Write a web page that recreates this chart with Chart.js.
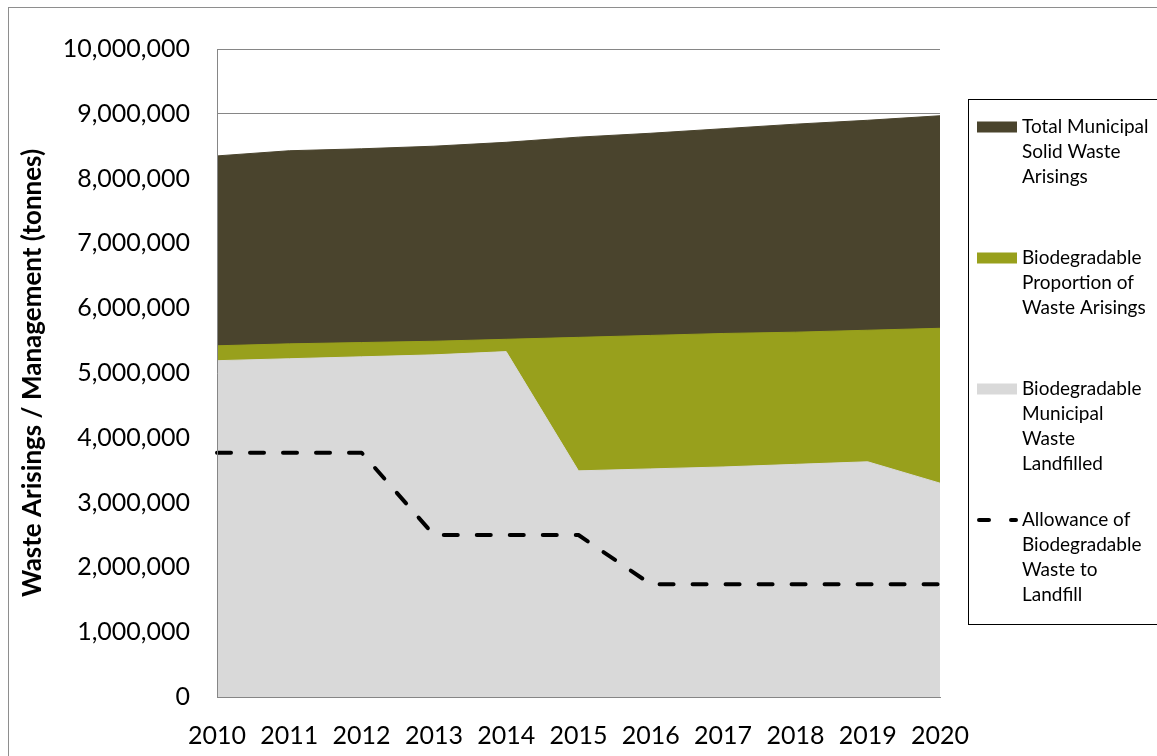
<!DOCTYPE html>
<html>
<head>
<meta charset="utf-8">
<script src="https://cdn.jsdelivr.net/npm/chart.js@4"></script>
<style>
  html, body { margin: 0; padding: 0; background: #fff; }
  #wrap { width: 1157px; height: 756px; position: relative; }
</style>
</head>
<body>
<div id="wrap"><canvas id="myChart"></canvas></div>
<script>
const years = ['2010', '2011', '2012', '2013', '2014', '2015', '2016', '2017', '2018', '2019', '2020'];

// tonnes per year
const totalArisings = [8350000, 8430000, 8460000, 8500000, 8560000, 8640000, 8700000, 8770000, 8840000, 8900000, 8970000];
const biodegradableArisings = [5420000, 5450000, 5470000, 5490000, 5520000, 5550000, 5580000, 5610000, 5630000, 5660000, 5690000];
const landfilled = [5190000, 5220000, 5250000, 5280000, 5330000, 3490000, 3520000, 3550000, 3590000, 3630000, 3300000];
const allowance = [3770000, 3770000, 3770000, 2500000, 2500000, 2500000, 1740000, 1740000, 1740000, 1740000, 1740000];

const seriesNames = [
  'Total Municipal Solid Waste Arisings',
  'Biodegradable Proportion of Waste Arisings',
  'Biodegradable Municipal Waste Landfilled',
  'Allowance of Biodegradable Waste to Landfill'
];
// how the legend breaks each name
const legendLines = [
  ['Total Municipal', 'Solid Waste', 'Arisings'],
  ['Biodegradable', 'Proportion of', 'Waste Arisings'],
  ['Biodegradable', 'Municipal', 'Waste', 'Landfilled'],
  ['Allowance of', 'Biodegradable', 'Waste to', 'Landfill']
];

const FONT = 'Lato, "Open Sans", sans-serif';

// white page + the outer frame of the chart
const framePlugin = {
  id: 'frame',
  beforeDraw(chart) {
    const ctx = chart.ctx;
    ctx.save();
    ctx.fillStyle = '#fff';
    ctx.fillRect(0, 0, chart.width, chart.height);
    ctx.strokeStyle = '#8e8e8e';
    ctx.lineWidth = 1;
    ctx.strokeRect(8.5, 7.5, chart.width + 20, chart.height + 20);
    ctx.restore();
  }
};

// put the axis lines back on top of the filled areas
const axisLinePlugin = {
  id: 'axisLines',
  afterDatasetsDraw(chart) {
    const a = chart.chartArea, ctx = chart.ctx;
    ctx.save();
    ctx.strokeStyle = '#868686';
    ctx.lineWidth = 1;
    ctx.beginPath();
    ctx.moveTo(Math.round(a.left) + 0.5, a.top);
    ctx.lineTo(Math.round(a.left) + 0.5, Math.round(a.bottom) + 0.5);
    ctx.lineTo(a.right, Math.round(a.bottom) + 0.5);
    ctx.stroke();
    ctx.restore();
  }
};

// boxed legend on the right with wrapped names
const boxLegendPlugin = {
  id: 'boxLegend',
  afterDraw(chart) {
    const ctx = chart.ctx;
    const items = Chart.defaults.plugins.legend.labels.generateLabels(chart)
      .sort((a, b) => a.datasetIndex - b.datasetIndex);
    const left = 968, top = 99, bottom = 624;
    ctx.save();
    ctx.strokeStyle = '#000';
    ctx.lineWidth = 1;
    ctx.strokeRect(left + 0.5, top + 0.5, 400, bottom - top);
    ctx.font = '19px ' + FONT;
    ctx.textBaseline = 'middle';
    ctx.textAlign = 'left';
    items.forEach((item, i) => {
      const y = 127 + i * 131;
      const ds = chart.data.datasets[item.datasetIndex];
      if (ds.fill) {
        ctx.fillStyle = ds.backgroundColor;
        ctx.fillRect(977, y - 5.5, 40, 11);
      } else {
        ctx.strokeStyle = ds.borderColor;
        ctx.lineWidth = 4;
        ctx.lineCap = 'round';
        ctx.beginPath();
        ctx.moveTo(979, y); ctx.lineTo(989, y);
        ctx.moveTo(1011, y); ctx.lineTo(1016, y);
        ctx.stroke();
      }
      ctx.fillStyle = '#000';
      legendLines[item.datasetIndex].forEach((line, j) => {
        ctx.fillText(line, 1022, y + j * 24.8);
      });
    });
    ctx.restore();
  }
};

function areaSet(i, data, color, order) {
  return {
    label: seriesNames[i],
    data: data,
    backgroundColor: color,
    borderColor: color,
    borderWidth: 1,
    pointRadius: 0,
    tension: 0,
    fill: 'origin',
    order: order
  };
}

const myChart = new Chart('myChart', {
  type: 'line',
  data: {
    labels: years,
    datasets: [
      areaSet(0, totalArisings, '#4a442d', 3),
      areaSet(1, biodegradableArisings, '#98a01c', 2),
      areaSet(2, landfilled, '#d9d9d9', 1),
      {
        label: seriesNames[3],
        data: allowance,
        borderColor: '#000',
        borderWidth: 4,
        borderDash: [14, 19],
        borderCapStyle: 'round',
        borderJoinStyle: 'round',
        pointRadius: 0,
        tension: 0,
        fill: false,
        order: 0
      }
    ]
  },
  options: {
    responsive: true,
    maintainAspectRatio: false,
    animation: false,
    layout: { padding: { top: 49, right: 217, bottom: 0, left: 0 } },
    plugins: {
      legend: { display: false },
      tooltip: { enabled: false },
      filler: { drawTime: 'beforeDatasetsDraw' }
    },
    scales: {
      x: {
        offset: false,
        grid: { display: false, drawTicks: false },
        border: { color: '#868686' },
        ticks: { color: '#000', font: { family: FONT, size: 25 }, padding: 24, maxRotation: 0, autoSkip: false },
        afterFit(scale) { scale.height = 59; }
      },
      y: {
        min: 0,
        max: 10000000,
        grid: { color: '#868686', drawTicks: false },
        border: { color: '#868686' },
        ticks: {
          stepSize: 1000000,
          color: '#000',
          font: { family: FONT, size: 25 },
          padding: 27,
          callback: v => v.toLocaleString('en-US')
        },
        title: {
          display: true,
          text: 'Waste Arisings / Management (tonnes)',
          color: '#000',
          font: { family: FONT, size: 26, weight: 'bold' },
          padding: { top: 17, bottom: 0 }
        },
        afterFit(scale) { scale.width = 217; }
      }
    }
  },
  plugins: [framePlugin, axisLinePlugin, boxLegendPlugin]
});
</script>
</body>
</html>
